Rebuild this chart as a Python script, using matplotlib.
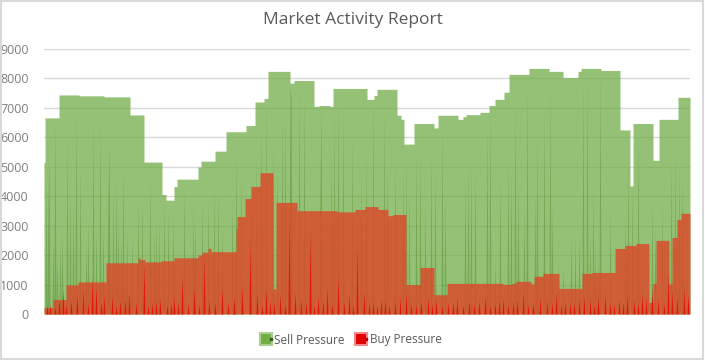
import numpy as np
import matplotlib.pyplot as plt
from matplotlib.lines import Line2D
from matplotlib.patches import Rectangle
from matplotlib.legend_handler import HandlerTuple

plt.rcParams['font.family'] = ['Open Sans', 'DejaVu Sans']

n_days = 646

# step envelope: first day of each level, and its value
sell_start = [0, 1, 15, 35, 60, 86, 100, 118, 122, 130, 133, 154, 157, 171, 182,
              202, 211, 220, 224, 246, 250, 270, 275, 286, 289, 323, 330, 333,
              353, 357, 360, 370, 390, 394, 414, 419, 422, 436, 445, 451, 460,
              465, 485, 505, 519, 534, 537, 557, 576, 586, 589, 609, 615, 634]
sell_level = [5150, 6660, 7440, 7410, 7375, 6760, 5160, 4060, 3865, 4330, 4580,
              4990, 5190, 5530, 6190, 6400, 7200, 7320, 8240, 7840, 7930, 7050,
              7080, 7050, 7660, 7290, 7420, 7630, 6750, 6610, 5770, 6470, 6320,
              6750, 6610, 6700, 6770, 6850, 7080, 7290, 7530, 8140, 8340, 8240,
              8030, 8240, 8340, 8270, 6250, 4350, 6470, 5220, 6610, 7360]

buy_start = [0, 9, 22, 34, 62, 94, 96, 101, 117, 130, 154, 158, 164, 167, 192,
             193, 201, 207, 216, 229, 232, 253, 293, 311, 321, 334, 344, 349,
             362, 376, 390, 403, 459, 468, 472, 487, 490, 499, 515, 538, 548,
             571, 581, 592, 605, 609, 612, 625, 628, 633, 637]
buy_level = [215, 490, 990, 1090, 1740, 1910, 1850, 1770, 1810, 1910, 2010,
             2100, 2230, 2115, 2900, 3310, 3920, 4330, 4800, 850, 3790, 3510,
             3470, 3550, 3650, 3550, 3340, 3380, 1000, 1580, 655, 1040, 1005,
             1040, 1110, 1020, 1280, 1380, 870, 1380, 1410, 2225, 2330, 2395,
             395, 1040, 2500, 1020, 2600, 3210, 3420]

# single-day spikes (day, value)
sell_spike_day = [2, 4, 5, 9, 11, 13, 16, 18, 23, 26, 29, 32, 36, 42, 44, 49, 52,
                  56, 59, 64, 65, 69, 72, 74, 77, 79, 83, 88, 94, 98, 106, 110,
                  112, 115, 120, 124, 129, 140, 149, 151, 158, 164, 170, 174,
                  178, 188, 192, 197, 207, 212, 217, 222, 229, 233, 238, 241,
                  246, 247, 255, 260, 267, 276, 277, 287, 290, 294, 299, 308,
                  317, 322, 329, 340, 343, 351, 359, 362, 365, 372, 376, 381,
                  387, 391, 398, 401, 421, 424, 427, 431, 443, 446, 451, 456,
                  464, 467, 471, 474, 480, 483, 491, 493, 500, 506, 508, 514,
                  519, 527, 531, 535, 539, 543, 546, 549, 551, 554, 556, 566,
                  581, 584, 588, 594, 598, 608, 611, 618, 627, 631, 635, 638]
sell_spike_val = [4670, 3650, 5180, 2510, 6600, 1940, 2460, 2850, 5980, 4330,
                  3880, 6830, 5010, 2460, 3080, 6550, 2850, 6490, 3190, 3760,
                  5810, 4220, 4670, 3190, 2630, 5010, 2800, 2740, 3880, 3880,
                  4610, 2740, 3190, 3190, 3820, 3540, 3360, 4270, 3700, 3140,
                  3880, 3820, 4330, 4220, 2850, 3880, 5510, 4720, 4720, 5340,
                  6360, 7150, 5910, 5010, 6760, 6760, 7720, 7320, 7550, 7380,
                  3760, 4050, 6980, 5460, 6810, 7320, 6810, 5910, 4670, 5400,
                  7380, 6760, 5010, 5230, 4890, 5120, 4220, 5570, 5340, 3760,
                  5340, 4780, 6300, 3880, 4550, 4950, 5010, 4890, 6360, 6930,
                  1840, 4550, 5230, 4780, 7100, 4500, 3540, 7770, 4100, 6020,
                  6810, 7770, 3650, 1840, 1560, 2520, 2630, 2750, 7830, 7940,
                  2750, 4280, 2290, 1840, 8170, 3480, 3310, 5230, 4220, 5910,
                  1610, 3880, 2970, 3650, 5120, 5340, 5010, 4600]

buy_spike_day = [3, 6, 11, 15, 19, 22, 27, 33, 39, 44, 48, 52, 57, 60, 68, 72,
                 76, 81, 85, 92, 100, 104, 108, 112, 116, 123, 127, 130, 134,
                 138, 144, 150, 155, 160, 165, 171, 178, 184, 190, 198, 206, 213,
                 218, 222, 226, 230, 236, 241, 245, 251, 257, 262, 266, 270, 274,
                 279, 283, 288, 294, 300, 305, 309, 313, 320, 325, 329, 333, 337,
                 341, 345, 351, 356, 362, 367, 372, 377, 384, 388, 392, 398, 404,
                 409, 413, 419, 425, 430, 435, 441, 446, 451, 455, 459, 464, 469,
                 473, 479, 484, 489, 496, 503, 508, 512, 517, 521, 526, 530, 535,
                 540, 546, 550, 554, 561, 566, 570, 575, 579, 583, 590, 594, 598,
                 602, 608, 614, 620, 624, 628, 633, 640, 644]
buy_spike_val = [300, 360, 250, 500, 820, 300, 450, 640, 820, 350, 1270, 930,
                 400, 640, 620, 280, 450, 500, 700, 380, 1730, 300, 400, 450,
                 520, 300, 380, 600, 420, 1300, 350, 900, 300, 2070, 450, 380,
                 900, 420, 600, 960, 2540, 700, 300, 850, 450, 400, 700, 350,
                 3330, 740, 500, 400, 2770, 300, 600, 450, 900, 350, 1300, 400,
                 700, 300, 2310, 740, 380, 400, 300, 510, 450, 280, 400, 560,
                 700, 350, 300, 450, 600, 350, 520, 300, 380, 420, 550, 300, 420,
                 350, 450, 600, 280, 380, 450, 520, 320, 430, 480, 700, 300, 380,
                 560, 450, 350, 700, 300, 420, 350, 380, 450, 600, 500, 300, 620,
                 680, 400, 320, 500, 380, 620, 480, 350, 700, 560, 960, 520, 380,
                 1420, 800, 600, 900, 650]


def steps(starts, levels):
    lengths = np.diff(starts + [n_days + 1])
    return np.repeat(levels, lengths)


def spikes(days, vals):
    s = np.zeros(n_days + 1)
    s[days] = vals
    return s


x = np.arange(n_days + 1)
sell = steps(sell_start, sell_level)
buy = steps(buy_start, buy_level)
sell_sp = spikes(sell_spike_day, sell_spike_val)
buy_sp = spikes(buy_spike_day, buy_spike_val)

fig = plt.figure(figsize=(7.05, 3.6), dpi=100)
ax = fig.add_axes([44 / 705, 46 / 360, 646 / 705, 265 / 360])

ax.fill_between(x, sell, step='post', color='#70ad47', alpha=0.75, lw=0, zorder=2)
ax.fill_between(x, sell_sp, color='#4e8a28', alpha=0.45, lw=0, zorder=3)
ax.fill_between(x, buy, step='post', color='#de4628', alpha=0.8, lw=0, zorder=4)
ax.fill_between(x, buy_sp, color='#e60000', alpha=0.75, lw=0, zorder=5)

ax.set_xlim(0, n_days)
ax.set_ylim(0, 9000)
ax.set_yticks(range(0, 9001, 1000))
ax.grid(axis='y', color='#d9d9d9', lw=1, zorder=1)
ax.set_axisbelow(True)
ax.set_xticks([])
ax.tick_params(axis='y', length=0, pad=11, labelsize=9, labelcolor='#7f7f7f')
for sp in ax.spines.values():
    sp.set_visible(False)

fig.text(0.5, 1 - 20 / 360, 'Market Activity Report', ha='center', va='center',
         fontsize=12.5, color='#595959')

h_sell = (Line2D([], [], marker='s', ls='', ms=9, mfc='#70ad47', mec='#a9d08e', mew=1.5),
          Line2D([], [], marker='s', ls='', ms=2, mfc='#375623', mec='#375623'))
h_buy = (Line2D([], [], marker='s', ls='', ms=9, mfc='#e00000', mec='#f4888c', mew=1.5),
         Line2D([], [], marker='s', ls='', ms=2, mfc='#c00000', mec='#c00000'))
fig.legend([h_sell, h_buy], ['Sell Pressure', 'Buy Pressure'],
           handler_map={tuple: HandlerTuple(ndivide=None, pad=0)},
           loc='center', bbox_to_anchor=(0.5, 1 - 340 / 360), ncol=2, frameon=False,
           fontsize=8.5, labelcolor='#595959', handlelength=0.8, handletextpad=0.1,
           columnspacing=1.2)

fig.patches.append(Rectangle((0.001, 0.002), 0.996, 0.995, transform=fig.transFigure,
                             fill=False, ec='#d9d9d9', lw=1.5))

fig.savefig('out.png', dpi=100)
